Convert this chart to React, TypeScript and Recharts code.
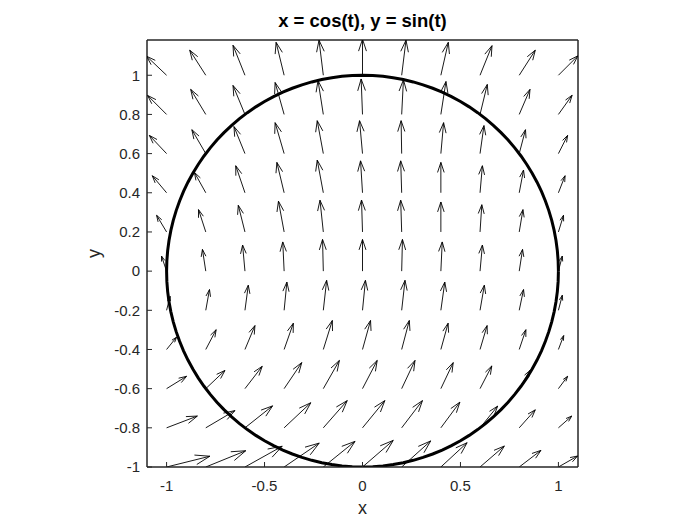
import React from 'react';
import { LineChart, Line, XAxis, YAxis, Label, ReferenceArea } from 'recharts';

const FONT = '"Liberation Sans", Arial, Helvetica, sans-serif';
const AXIS_COLOR = '#262626';

// Quiver grid (tail positions)
const gridX = [-1, -0.8, -0.6, -0.4, -0.2, 0, 0.2, 0.4, 0.6, 0.8, 1];
const gridY = [1, 0.8, 0.6, 0.4, 0.2, 0, -0.2, -0.4, -0.6, -0.8, -1];

// Horizontal arrow components (rows: y = 1 ... -1, cols: x = -1 ... 1)
const U = [
  [-0.102, -0.082, -0.061, -0.041, -0.022, 0, 0.022, 0.038, 0.061, 0.082, 0.099],
  [-0.097, -0.077, -0.061, -0.046, -0.027, -0.007, 0.009, 0.026, 0.037, 0.055, 0.07],
  [-0.088, -0.071, -0.056, -0.046, -0.031, -0.015, -0.003, 0.014, 0.02, 0.032, 0.047],
  [-0.073, -0.058, -0.047, -0.037, -0.031, -0.01, -0.005, 0, 0.012, 0.022, 0.034],
  [-0.051, -0.037, -0.034, -0.029, -0.017, -0.005, -0.005, 0, 0.009, 0.019, 0.026],
  [-0.026, -0.017, -0.012, -0.007, -0.004, 0, 0.004, 0.007, 0.012, 0.017, 0.02],
  [0.018, 0.019, 0.017, 0.014, 0.017, 0.015, 0.017, 0.02, 0.022, 0.022, 0.02],
  [0.051, 0.053, 0.051, 0.047, 0.046, 0.041, 0.039, 0.037, 0.036, 0.034, 0.027],
  [0.102, 0.098, 0.088, 0.09, 0.082, 0.075, 0.068, 0.063, 0.06, 0.056, 0.047],
  [0.157, 0.149, 0.141, 0.136, 0.122, 0.114, 0.106, 0.097, 0.09, 0.082, 0.068],
  [0.221, 0.204, 0.19, 0.179, 0.162, 0.157, 0.148, 0.134, 0.124, 0.111, 0.098],
];

// Vertical arrow components
const V = [
  [0.097, 0.128, 0.153, 0.168, 0.179, 0.184, 0.179, 0.168, 0.151, 0.128, 0.099],
  [0.097, 0.128, 0.148, 0.163, 0.173, 0.181, 0.177, 0.168, 0.153, 0.128, 0.098],
  [0.093, 0.122, 0.138, 0.158, 0.168, 0.168, 0.168, 0.158, 0.143, 0.122, 0.093],
  [0.087, 0.104, 0.138, 0.155, 0.167, 0.163, 0.163, 0.155, 0.138, 0.116, 0.087],
  [0.085, 0.114, 0.136, 0.157, 0.162, 0.163, 0.162, 0.153, 0.139, 0.114, 0.085],
  [0.077, 0.111, 0.133, 0.149, 0.162, 0.162, 0.162, 0.149, 0.133, 0.111, 0.077],
  [0.071, 0.106, 0.128, 0.144, 0.153, 0.153, 0.153, 0.144, 0.128, 0.106, 0.077],
  [0.063, 0.101, 0.122, 0.134, 0.148, 0.148, 0.148, 0.134, 0.122, 0.101, 0.071],
  [0.063, 0.093, 0.114, 0.133, 0.144, 0.144, 0.144, 0.133, 0.116, 0.094, 0.063],
  [0.06, 0.088, 0.112, 0.128, 0.139, 0.139, 0.139, 0.131, 0.111, 0.092, 0.06],
  [0.055, 0.083, 0.106, 0.122, 0.131, 0.136, 0.133, 0.124, 0.107, 0.085, 0.056],
];

// Curve parameter t (degrees) for x = cos(t), y = sin(t)
const circleT = Array.from({ length: 121 }, (_, i) => i * 3);

const xTicks = [-1, -0.5, 0, 0.5, 1];
const yTicks = [-1, -0.8, -0.6, -0.4, -0.2, 0, 0.2, 0.4, 0.6, 0.8, 1];
const xDomain = [-1.1, 1.1];
const yDomain = [-1, 1.18];

const circleData = circleT.map((d) => ({
  x: Math.cos((d * Math.PI) / 180),
  y: Math.sin((d * Math.PI) / 180),
}));

const arrowData: any[] = [];
gridY.forEach((y, r) => {
  gridX.forEach((x, c) => {
    arrowData.push({ x, y });
    arrowData.push({ x: x + U[r][c], y: y + V[r][c] });
    arrowData.push({ x: x + U[r][c], y: null });
  });
});

const ArrowHead = (props: any) => {
  const { index, points, cx, cy } = props;
  const key = `ah-${index}`;
  if (index % 3 !== 1 || !points || cx == null || cy == null) return <g key={key} />;
  const tail = points[index - 1];
  if (!tail || tail.x == null || tail.y == null) return <g key={key} />;
  const dx = cx - tail.x;
  const dy = cy - tail.y;
  const a = 0.33;
  const b = 0.33;
  const p1x = cx - a * (dx + b * dy);
  const p1y = cy - a * (dy - b * dx);
  const p2x = cx - a * (dx - b * dy);
  const p2y = cy - a * (dy + b * dx);
  return (
    <polyline
      key={key}
      points={`${p1x},${p1y} ${cx},${cy} ${p2x},${p2y}`}
      fill="none"
      stroke="#000"
      strokeWidth={0.9}
    />
  );
};

const tickStyle = { fill: AXIS_COLOR, fontSize: 15, fontFamily: FONT };

export default function App() {
  return (
    <div style={{ marginTop: -8 }}>
      <LineChart
        width={684}
        height={517}
        margin={{ top: 39, right: 113, bottom: 20, left: 99 }}
      >
        <XAxis
          dataKey="x"
          type="number"
          domain={xDomain}
          ticks={xTicks}
          interval={0}
          allowDataOverflow
          stroke={AXIS_COLOR}
          tickSize={-5}
          tickMargin={18}
          height={30}
          tick={tickStyle}
        >
          <Label
            content={({ viewBox }: any) => (
              <text
                x={viewBox.x + viewBox.width / 2}
                y={514}
                textAnchor="middle"
                fill={AXIS_COLOR}
                fontSize={18}
                fontFamily={FONT}
              >
                x
              </text>
            )}
          />
        </XAxis>
        <XAxis
          xAxisId="top"
          dataKey="x"
          orientation="top"
          type="number"
          domain={xDomain}
          ticks={xTicks}
          interval={0}
          allowDataOverflow
          stroke={AXIS_COLOR}
          tickSize={-5}
          tick={false}
          height={1}
        >
          <Label
            content={({ viewBox }: any) => (
              <text
                x={viewBox.x + viewBox.width / 2}
                y={27}
                textAnchor="middle"
                fill="#000"
                fontSize={18.5}
                fontWeight="bold"
                fontFamily={FONT}
              >
                x = cos(t), y = sin(t)
              </text>
            )}
          />
        </XAxis>
        <YAxis
          type="number"
          domain={yDomain}
          ticks={yTicks}
          interval={0}
          allowDataOverflow
          stroke={AXIS_COLOR}
          tickSize={-5}
          tickMargin={12}
          width={40}
          tick={tickStyle}
        >
          <Label
            content={({ viewBox }: any) => {
              const cx = 92;
              const cy = viewBox.y + viewBox.height / 2;
              return (
                <text
                  x={cx}
                  y={cy}
                  textAnchor="middle"
                  transform={`rotate(-90, ${cx}, ${cy})`}
                  fill={AXIS_COLOR}
                  fontSize={18}
                  fontFamily={FONT}
                >
                  y
                </text>
              );
            }}
          />
        </YAxis>
        <YAxis
          yAxisId="right"
          orientation="right"
          type="number"
          domain={yDomain}
          ticks={yTicks}
          interval={0}
          allowDataOverflow
          stroke={AXIS_COLOR}
          tickSize={-5}
          tick={false}
          width={1}
        />
        <ReferenceArea
          x1={xDomain[0]}
          x2={xDomain[1]}
          y1={yDomain[0]}
          y2={yDomain[1]}
          fill="none"
          fillOpacity={0}
          stroke={AXIS_COLOR}
          strokeWidth={1}
          ifOverflow="visible"
        />
        <Line
          data={circleData}
          dataKey="y"
          stroke="#000"
          strokeWidth={3}
          dot={false}
          activeDot={false}
          isAnimationActive={false}
        />
        <Line
          data={arrowData}
          dataKey="y"
          stroke="#000"
          strokeWidth={0.9}
          dot={ArrowHead}
          activeDot={false}
          connectNulls={false}
          isAnimationActive={false}
        />
      </LineChart>
    </div>
  );
}
